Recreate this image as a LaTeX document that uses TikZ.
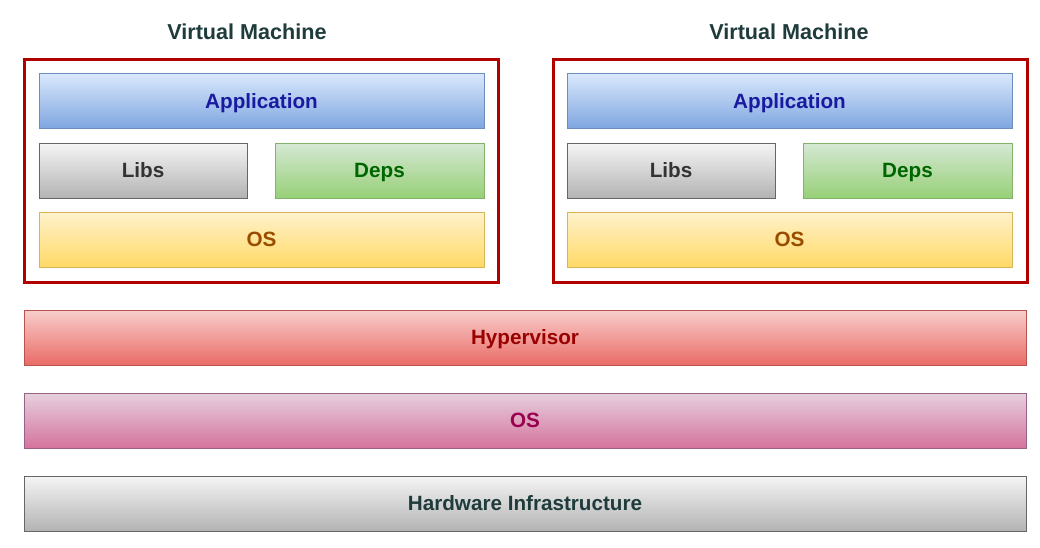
\documentclass[tikz,border=0pt]{standalone}
\usepackage{fontspec}
\setmainfont{Liberation Sans}
\definecolor{titlec}{HTML}{1F3B3B}
\definecolor{appT}{HTML}{DAE8FC}\definecolor{appB}{HTML}{7EA6E0}\definecolor{appS}{HTML}{6C8EBF}\definecolor{appX}{HTML}{1A1AA0}
\definecolor{grT}{HTML}{F5F5F5}\definecolor{grB}{HTML}{B3B3B3}\definecolor{grS}{HTML}{666666}\definecolor{grX}{HTML}{333333}
\definecolor{gnT}{HTML}{D5E8D4}\definecolor{gnB}{HTML}{97D077}\definecolor{gnS}{HTML}{82B366}\definecolor{gnX}{HTML}{006600}
\definecolor{yeT}{HTML}{FFF2CC}\definecolor{yeB}{HTML}{FFD966}\definecolor{yeS}{HTML}{D6B656}\definecolor{yeX}{HTML}{994C00}
\definecolor{rdT}{HTML}{F8CECC}\definecolor{rdB}{HTML}{EA6B66}\definecolor{rdS}{HTML}{B85450}\definecolor{rdX}{HTML}{990000}
\definecolor{pkT}{HTML}{E6D0DE}\definecolor{pkB}{HTML}{D5739D}\definecolor{pkS}{HTML}{996185}\definecolor{pkX}{HTML}{99004D}
\definecolor{frame}{HTML}{B20000}
\tikzset{
  lay/.style={inner sep=0pt, line width=0.75pt, font=\fontsize{15.5}{18}\selectfont\bfseries, minimum height=41.25pt, text height=11.1pt, text depth=0pt},
  appbox/.style={lay, draw=appS, top color=appT, bottom color=appB, text=appX, minimum width=333.75pt},
  libbox/.style={lay, draw=grS, top color=grT, bottom color=grB, text=grX, minimum width=156pt},
  depbox/.style={lay, draw=gnS, top color=gnT, bottom color=gnB, text=gnX, minimum width=156.75pt},
  vmos/.style={lay, draw=yeS, top color=yeT, bottom color=yeB, text=yeX, minimum width=333.75pt},
  wide/.style={lay, minimum width=751.5pt},
  hyp/.style={wide, draw=rdS, top color=rdT, bottom color=rdB, text=rdX},
  hostos/.style={wide, draw=pkS, top color=pkT, bottom color=pkB, text=pkX},
  hw/.style={wide, draw=grS, top color=grT, bottom color=grB, text=titlec},
  vmframe/.style={draw=frame, line width=2.25pt, minimum width=355.5pt, minimum height=167.25pt, inner sep=0pt},
  vmtitle/.style={font=\fontsize{16.2}{18}\selectfont\bfseries, text=titlec, inner sep=0pt, text height=11.6pt, text depth=0pt}
}
\begin{document}
\begin{tikzpicture}[x=0.75pt,y=-0.75pt]
\useasboundingbox (0,0) rectangle (1040,547);
\fill[white] (0,0) rectangle (1040,547);
% left VM
\node[vmtitle] (t1) at (247,31.5) {Virtual Machine};
\node[vmframe] (vm1) at (261,170.5) {};
\node[appbox] (app1) at (261.5,101) {Application};
\node[libbox] (lib1) at (143,170.5) {Libs};
\node[depbox] (dep1) at (379.5,170.5) {Deps};
\node[vmos] (os1) at (261.5,239.5) {OS};
% right VM
\node[vmtitle] (t2) at (789,31.5) {Virtual Machine};
\node[vmframe] (vm2) at (790,170.5) {};
\node[appbox] (app2) at (789.5,101) {Application};
\node[libbox] (lib2) at (671,170.5) {Libs};
\node[depbox] (dep2) at (907.5,170.5) {Deps};
\node[vmos] (os2) at (789.5,239.5) {OS};
% host layers
\node[hyp] (hyp) at (525,337.5) {Hypervisor};
\node[hostos] (hos) at (525,420.5) {OS};
\node[hw] (hw) at (525,503.5) {Hardware Infrastructure};
\end{tikzpicture}
\end{document}
